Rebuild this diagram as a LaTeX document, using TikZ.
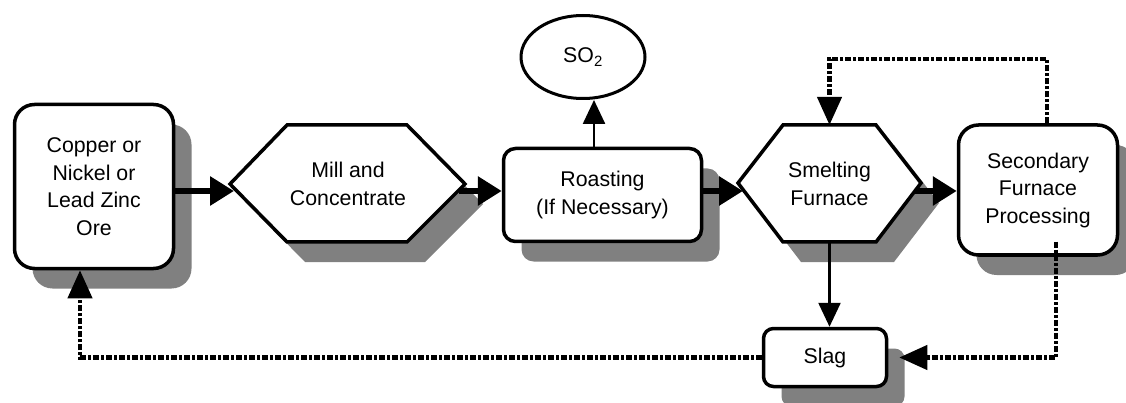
\documentclass[tikz,border=0pt]{standalone}
\usepackage{fontspec}
\setmainfont{Liberation Sans}
\usetikzlibrary{shadows,arrows.meta,calc,shapes.geometric}
\definecolor{shadowgray}{RGB}{128,128,128}
\begin{document}
\begin{tikzpicture}[x=1pt,y=-1pt,
  shad/.style={drop shadow={shadow xshift=18pt,shadow yshift=-20pt,fill=shadowgray,opacity=1}},
  lbl/.style={font=\fontsize{21.3}{27.5}\selectfont, align=center, text=black},
  procbox/.style={lbl, draw, line width=3.5pt, fill=white, shad, inner sep=0pt},
  hexpath/.style={draw, line width=3.5pt, fill=white, shad, line join=miter},
  flow/.style={line width=6pt, -{Triangle[length=24pt,width=28pt]}},
  thinflow/.style={line width=2.5pt, -{Triangle[length=24pt,width=22pt]}},
  dotflow/.style={line width=4.2pt, dash pattern=on 6pt off 2pt on 3pt off 2pt, -{Triangle[length=28pt,width=24pt]}},
]
\useasboundingbox (0,0) rectangle (1126,403);

% nodes
\node[procbox, minimum width=159pt, minimum height=164pt, rounded corners=20pt] (ore) at (94,186.5) {Copper or\\Nickel or\\Lead Zinc\\Ore};

\draw[hexpath] (230,184) -- (287,125) -- (407,125) -- (465,184) -- (407,242) -- (287,242) -- cycle;
\node[lbl] (mill) at (348,184) {Mill and\\Concentrate};

\node[procbox, minimum width=198pt, minimum height=93pt, rounded corners=12pt] (roast) at (602.5,195) {Roasting\\(If Necessary)};

\node[lbl, draw, ellipse, line width=3pt, fill=white, minimum width=124pt, minimum height=83pt, inner sep=0pt] (so2) at (583,57) {SO\textsubscript{2}};

\draw[hexpath] (738,183) -- (783,125) -- (876,125) -- (921,183) -- (876,242) -- (783,242) -- cycle;
\node[lbl] (smelt) at (829.5,184) {Smelting\\Furnace};

\node[procbox, minimum width=159pt, minimum height=130pt, rounded corners=20pt] (sec) at (1038,190) {Secondary\\Furnace\\Processing};

\node[procbox, minimum width=123pt, minimum height=58pt, rounded corners=10pt] (slag) at (825,357.5) {Slag};

% connection points
\coordinate (millIn) at (234,191);
\coordinate (millOut) at (459,191);
\coordinate (smeltIn) at (743,191);
\coordinate (smeltOut) at (915,191);
\coordinate (smeltTop) at (829.5,125);
\coordinate (smeltBot) at (829.5,242);
\coordinate (topY) at (0,59);
\coordinate (secUp) at ([xshift=9pt]sec.north);
\coordinate (secDown) at ([xshift=18pt,yshift=15pt]sec.south);
\coordinate (oreUp) at ([xshift=-14pt]ore.south);
\coordinate (so2Base) at ([xshift=-8.5pt]roast.north);

% connectors
\draw[flow] (ore.east |- millIn) -- (millIn);
\draw[flow] (millOut) -- (roast.west |- millOut);
\draw[flow] (roast.east |- smeltIn) -- (smeltIn);
\draw[flow] (smeltOut) -- (sec.west |- smeltOut);
\draw[thinflow] (so2Base) -- (so2Base |- so2.south);
\draw[thinflow] (smeltBot) -- (smeltBot |- slag.north);
\draw[dotflow] (secUp) -- (secUp |- topY) -| (smeltTop);
\draw[dotflow] (secDown) |- ([xshift=11pt]slag.east);
\draw[dotflow] (slag.west) -| (oreUp);
\end{tikzpicture}
\end{document}
